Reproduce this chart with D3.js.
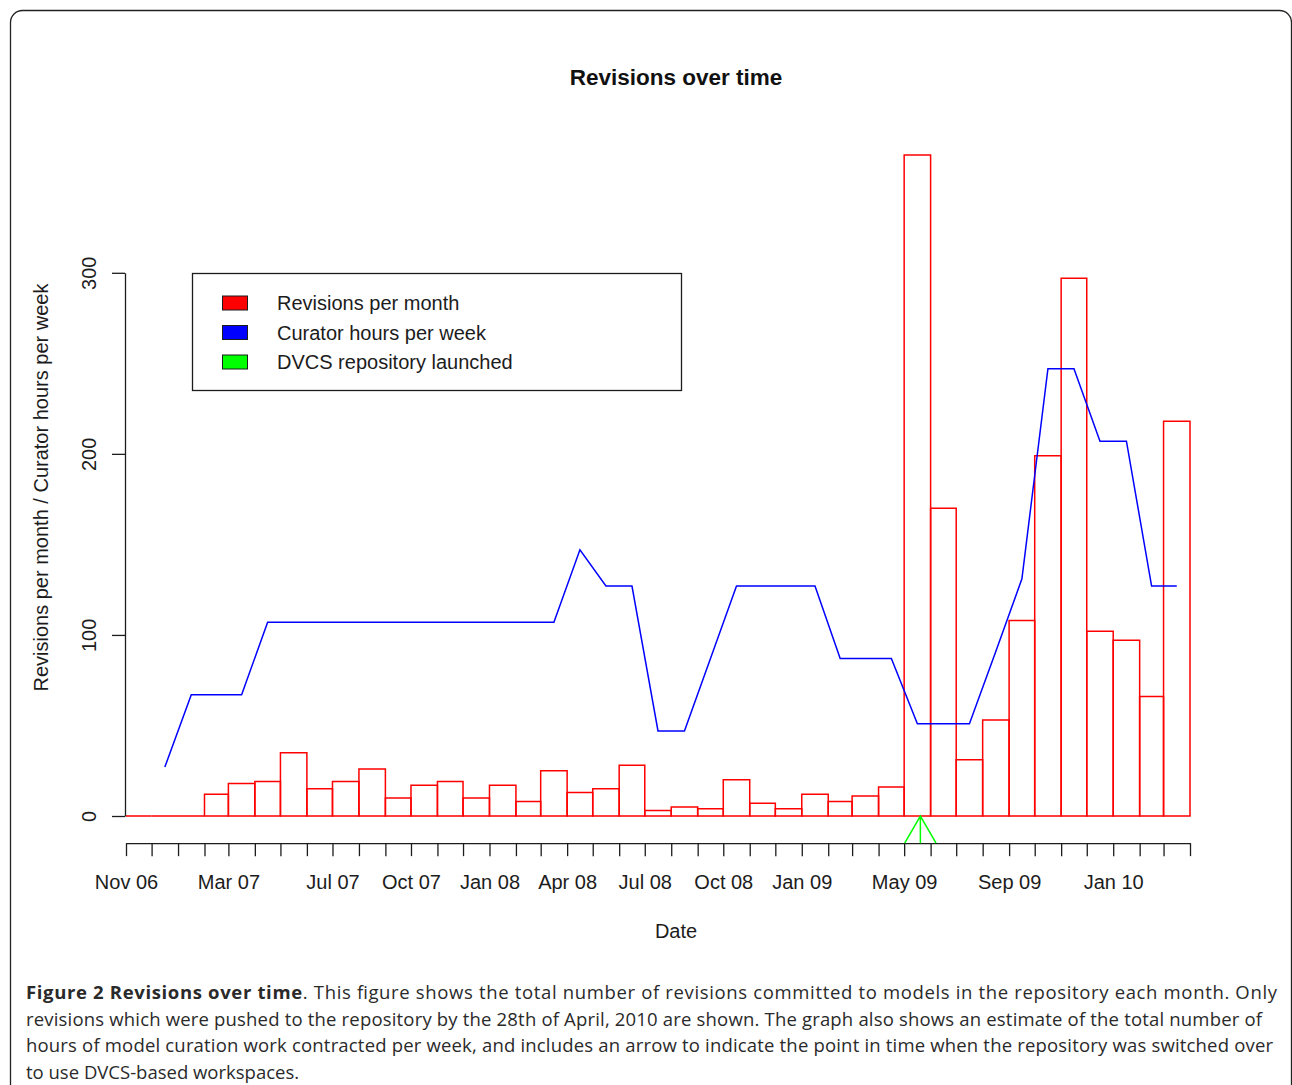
<!DOCTYPE html>
<html>
<head>
<meta charset="utf-8">
<script src="https://cdn.jsdelivr.net/npm/d3@7"></script>
<style>
  body { margin: 0; background: #fff; }
  svg { display: block; }
</style>
</head>
<body>
<svg width="1292" height="1085"></svg>
<script>
// monthly bins, Nov 2006 .. Mar 2010
const months = [
  "2006-11", "2006-12",
  "2007-01", "2007-02", "2007-03", "2007-04", "2007-05", "2007-06",
  "2007-07", "2007-08", "2007-09", "2007-10", "2007-11", "2007-12",
  "2008-01", "2008-02", "2008-03", "2008-04", "2008-05", "2008-06",
  "2008-07", "2008-08", "2008-09", "2008-10", "2008-11", "2008-12",
  "2009-01", "2009-02", "2009-03", "2009-04", "2009-05", "2009-06",
  "2009-07", "2009-08", "2009-09", "2009-10", "2009-11", "2009-12",
  "2010-01", "2010-02", "2010-03",
];

const revisions = [
  0, 0,
  0, 12, 18, 19, 35, 15, 19, 26, 10, 17, 19, 10,
  17, 8, 25, 13, 15, 28, 3, 5, 4, 20, 7, 4,
  12, 8, 11, 16, 365, 170, 31, 53, 108, 199, 297, 102,
  97, 66, 218,
];

// curator hours start in Dec 2006
const curatorMonths = months.slice(1);
const curatorHours = [
  27,
  67, 67, 67, 107, 107, 107, 107, 107, 107, 107, 107, 107,
  107, 107, 107, 147, 127, 127, 47, 47, 87, 127, 127, 127,
  127, 87, 87, 87, 51, 51, 51, 91, 131, 247, 247, 207,
  207, 127, 127,
];

const launchDate = "2009-05-20";
const arrowBase = -15;

const shownLabels = [
  "Nov 06", "Mar 07", "Jul 07", "Oct 07", "Jan 08", "Apr 08",
  "Jul 08", "Oct 08", "Jan 09", "May 09", "Sep 09", "Jan 10",
];
const yTicks = [0, 100, 200, 300];

const legendItems = [
  { label: "Revisions per month", color: "#ff0000" },
  { label: "Curator hours per week", color: "#0000ff" },
  { label: "DVCS repository launched", color: "#00ff00" },
];

const parseMonth = d3.timeParse("%Y-%m");
const parseDay = d3.timeParse("%Y-%m-%d");
const fmt = d3.timeFormat("%b %y");

const svg = d3.select("svg");
const rFont = "'Liberation Sans', Arial, Helvetica, sans-serif";
const ink = "#1c1c1c";

const start = parseMonth(months[0]);
const end = d3.timeMonth.offset(parseMonth(months[months.length - 1]), 1);

const x = d3.scaleTime().domain([start, end]).range([126, 1190]);
const y = d3.scaleLinear().domain([0, 300]).range([816, 272.8]);

const axisY = y(arrowBase);

// outer figure frame
svg.append("rect")
  .attr("x", 10.5).attr("y", 10.5)
  .attr("width", 1281).attr("height", 1200)
  .attr("rx", 12)
  .attr("fill", "none")
  .attr("stroke", "#222")
  .attr("stroke-width", 1.3);

// title
svg.append("text")
  .attr("x", 676).attr("y", 85)
  .attr("text-anchor", "middle")
  .style("font", `bold 22.5px ${rFont}`)
  .attr("fill", "#111")
  .text("Revisions over time");

// histogram bars
function barPath(m, v) {
  const d0 = parseMonth(m);
  const x0 = x(d0);
  const x1 = x(d3.timeMonth.offset(d0, 1));
  const y0 = y(0);
  const y1 = y(v);
  return `M${x0},${y0}V${y1}H${x1}V${y0}Z`;
}

svg.append("g")
  .selectAll("path")
  .data(months)
  .join("path")
  .attr("d", (m, i) => barPath(m, revisions[i]))
  .attr("fill", "none")
  .attr("stroke", "#ff0000")
  .attr("stroke-width", 1.5);

// curator hours line, plotted at mid-month
function midMonth(m) {
  const d0 = parseMonth(m);
  return (x(d0) + x(d3.timeMonth.offset(d0, 1))) / 2;
}

const line = d3.line()
  .x((m) => midMonth(m))
  .y((m, i) => y(curatorHours[i]));

svg.append("path")
  .attr("d", line(curatorMonths))
  .attr("fill", "none")
  .attr("stroke", "#0000ff")
  .attr("stroke-width", 1.5);

// x axis
const tickDates = d3.timeMonth.range(start, d3.timeDay.offset(end, 1));
const xAxis = d3.axisBottom(x)
  .tickValues(tickDates)
  .tickSize(13)
  .tickSizeOuter(0)
  .tickPadding(19)
  .tickFormat((d) => (shownLabels.includes(fmt(d)) ? fmt(d) : ""));

const gx = svg.append("g")
  .attr("transform", `translate(0,${axisY})`)
  .call(xAxis);
gx.selectAll("path, line").attr("stroke", ink).attr("stroke-width", 1.3);
gx.selectAll("text").style("font", `20px ${rFont}`).attr("fill", ink);

// y axis
const yAxis = d3.axisLeft(y)
  .tickValues(yTicks)
  .tickSize(13)
  .tickSizeOuter(0);

const gy = svg.append("g")
  .attr("transform", `translate(${x.range()[0] - 1},0)`)
  .call(yAxis);
gy.selectAll("path, line").attr("stroke", ink).attr("stroke-width", 1.3);
gy.selectAll("text")
  .attr("transform", "rotate(-90)")
  .attr("x", 0)
  .attr("y", -29)
  .attr("dy", 0)
  .attr("text-anchor", "middle")
  .style("font", `20px ${rFont}`)
  .attr("fill", ink);

// axis titles
svg.append("text")
  .attr("x", 676).attr("y", 938)
  .attr("text-anchor", "middle")
  .style("font", `20px ${rFont}`)
  .attr("fill", ink)
  .text("Date");

svg.append("text")
  .attr("transform", `translate(48,${(y(arrowBase) + y(380)) / 2 + 2}) rotate(-90)`)
  .attr("text-anchor", "middle")
  .style("font", `20px ${rFont}`)
  .attr("fill", ink)
  .text("Revisions per month / Curator hours per week");

// launch arrow
const ax = x(parseDay(launchDate));
const tipY = y(0);
const baseY = y(arrowBase);
const headDx = (baseY - tipY) * Math.tan(Math.PI / 6);
svg.append("path")
  .attr("d", `M${ax},${baseY}V${tipY}M${ax - headDx},${baseY}L${ax},${tipY}L${ax + headDx},${baseY}`)
  .attr("fill", "none")
  .attr("stroke", "#00ff00")
  .attr("stroke-width", 1.5);

// legend
const legend = svg.append("g");
legend.append("rect")
  .attr("x", 192.5).attr("y", 273.5)
  .attr("width", 489).attr("height", 117)
  .attr("fill", "#fff")
  .attr("stroke", ink)
  .attr("stroke-width", 1.3);

const rows = legend.selectAll("g.row")
  .data(legendItems)
  .join("g")
  .attr("class", "row")
  .attr("transform", (d, i) => `translate(0,${303 + i * 29.5})`);

rows.append("rect")
  .attr("x", 222.5).attr("y", -7)
  .attr("width", 25).attr("height", 14)
  .attr("fill", (d) => d.color)
  .attr("stroke", ink)
  .attr("stroke-width", 1);

rows.append("text")
  .attr("x", 277).attr("y", 7)
  .style("font", `20px ${rFont}`)
  .attr("fill", ink)
  .text((d) => d.label);

// caption
const capFont = "'Open Sans', 'Noto Sans', sans-serif";
const captionLines = [
  [["Figure 2 Revisions over time", true], [". This figure shows the total number of revisions committed to models in the repository each month. Only", false]],
  [["revisions which were pushed to the repository by the 28th of April, 2010 are shown. The graph also shows an estimate of the total number of", false]],
  [["hours of model curation work contracted per week, and includes an arrow to indicate the point in time when the repository was switched over", false]],
  [["to use DVCS-based workspaces.", false]],
];
const captionWidths = [1251, 1236, 1247, null];

captionLines.forEach((parts, i) => {
  const t = svg.append("text")
    .attr("x", 26)
    .attr("y", 999 + i * 26.7)
    .style("font", `18.5px ${capFont}`)
    .attr("fill", "#2a2a2a");
  if (captionWidths[i]) {
    t.attr("textLength", captionWidths[i]).attr("lengthAdjust", "spacing");
  }
  parts.forEach(([s, bold]) => {
    t.append("tspan").attr("font-weight", bold ? "bold" : "normal").text(s);
  });
});
</script>
</body>
</html>
